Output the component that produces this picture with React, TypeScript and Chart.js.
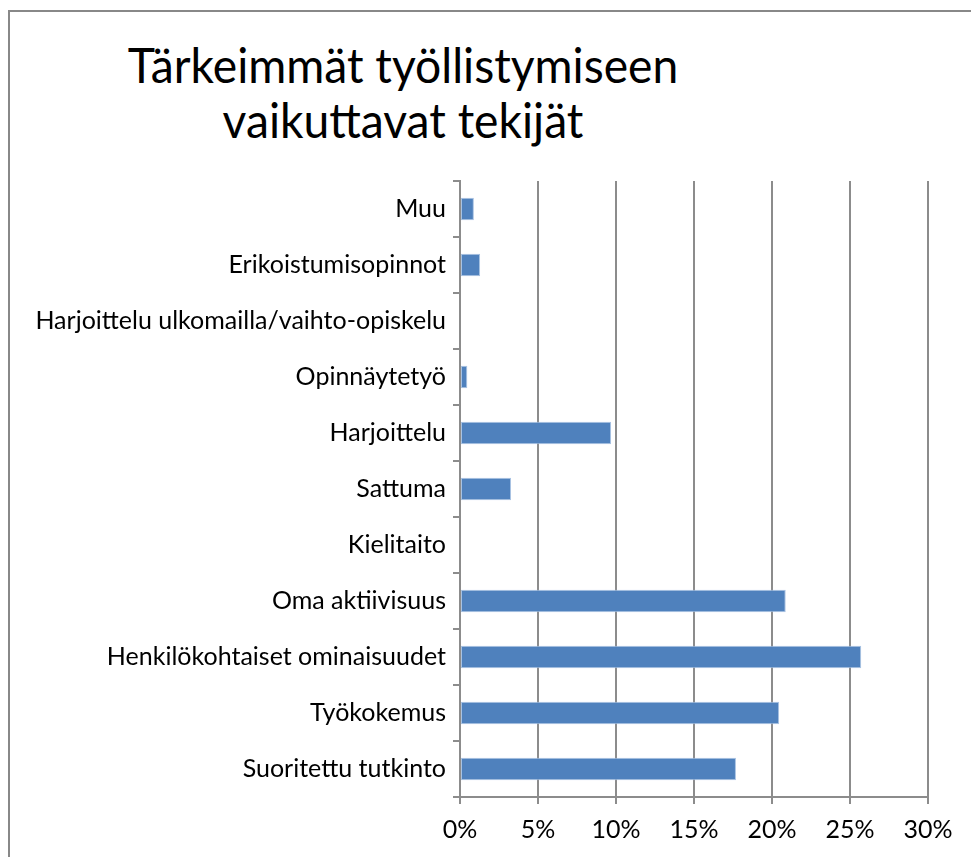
import React, { useEffect, useRef } from "react";
import { Chart, registerables } from "chart.js";

Chart.register(...registerables);

// Categories in source order (bottom to top in the chart)
const categories: string[] = [
  "Suoritettu tutkinto",
  "Työkokemus",
  "Henkilökohtaiset ominaisuudet",
  "Oma aktiivisuus",
  "Kielitaito",
  "Sattuma",
  "Harjoittelu",
  "Opinnäytetyö",
  "Harjoittelu ulkomailla/vaihto-opiskelu",
  "Erikoistumisopinnot",
  "Muu",
];

// Share of respondents, percent
const shares: number[] = [17.69, 20.46, 25.72, 20.88, 0, 3.27, 9.69, 0.47, 0, 1.29, 0.89];

const xTicks: number[] = [0, 5, 10, 15, 20, 25, 30];

const titleLines: string[] = ["Tärkeimmät työllistymiseen", "vaikuttavat tekijät"];

const FONT = "Lato, 'Liberation Sans', sans-serif";

export default function App() {
  const canvasRef = useRef<HTMLCanvasElement | null>(null);

  useEffect(() => {
    const canvas = canvasRef.current;
    if (!canvas) return;
    const chart = new Chart(canvas, {
      type: "bar",
      data: {
        labels: categories,
        datasets: [
          {
            data: shares,
            backgroundColor: "#4F81BD",
            borderColor: "#A9C3E3",
            borderWidth: 1,
            borderSkipped: false,
            barPercentage: 0.4,
            categoryPercentage: 1.0,
          },
        ],
      },
      options: {
        indexAxis: "y",
        responsive: false,
        animation: false,
        maintainAspectRatio: false,
        layout: { padding: { top: 181, right: 43, left: 0, bottom: 0 } },
        plugins: {
          legend: { display: false },
          title: { display: false },
          tooltip: { enabled: false },
        },
        scales: {
          x: {
            type: "linear",
            min: xTicks[0],
            max: xTicks[xTicks.length - 1],
            afterBuildTicks: (scale: any) => {
              scale.ticks = xTicks.map((v) => ({ value: v }));
            },
            afterFit: (scale: any) => {
              scale.height = 60;
            },
            ticks: {
              stepSize: 5,
              padding: 11,
              color: "#000000",
              font: { family: FONT, size: 25 },
              callback: (v: any) => `${v}%`,
            },
            grid: {
              color: "#8c8c8c",
              lineWidth: 2,
              tickLength: 7,
              drawOnChartArea: true,
            },
            border: { display: true, color: "#8c8c8c", width: 2 },
          },
          y: {
            type: "category",
            reverse: true,
            afterFit: (scale: any) => {
              scale.width = 460;
            },
            ticks: {
              padding: 7,
              color: "#000000",
              font: { family: FONT, size: 25 },
            },
            grid: {
              offset: true,
              drawOnChartArea: false,
              drawTicks: true,
              tickLength: 7,
              color: "#8c8c8c",
              lineWidth: 2,
            },
            border: { display: true, color: "#8c8c8c", width: 2 },
          },
        },
      },
    });
    return () => chart.destroy();
  }, []);

  return (
    <div
      style={{
        position: "absolute",
        left: 0,
        top: 0,
        width: 971,
        height: 857,
        overflow: "hidden",
        background: "#ffffff",
      }}
    >
      <div
        style={{
          position: "absolute",
          left: 8,
          top: 10,
          width: 1100,
          height: 1000,
          border: "2px solid #888888",
          boxSizing: "border-box",
        }}
      />
      <div
        style={{
          position: "absolute",
          left: 0,
          top: 37,
          width: 806,
          textAlign: "center",
          fontFamily: FONT,
          fontSize: 49,
          lineHeight: "55px",
          color: "#000000",
          transform: "scaleX(0.943)",
          transformOrigin: "403px 0px",
        }}
      >
        {titleLines.map((l, i) => (
          <div key={i}>{l}</div>
        ))}
      </div>
      <canvas
        ref={canvasRef}
        width={971}
        height={857}
        style={{ position: "absolute", left: 0, top: 0, width: 971, height: 857 }}
      />
    </div>
  );
}
